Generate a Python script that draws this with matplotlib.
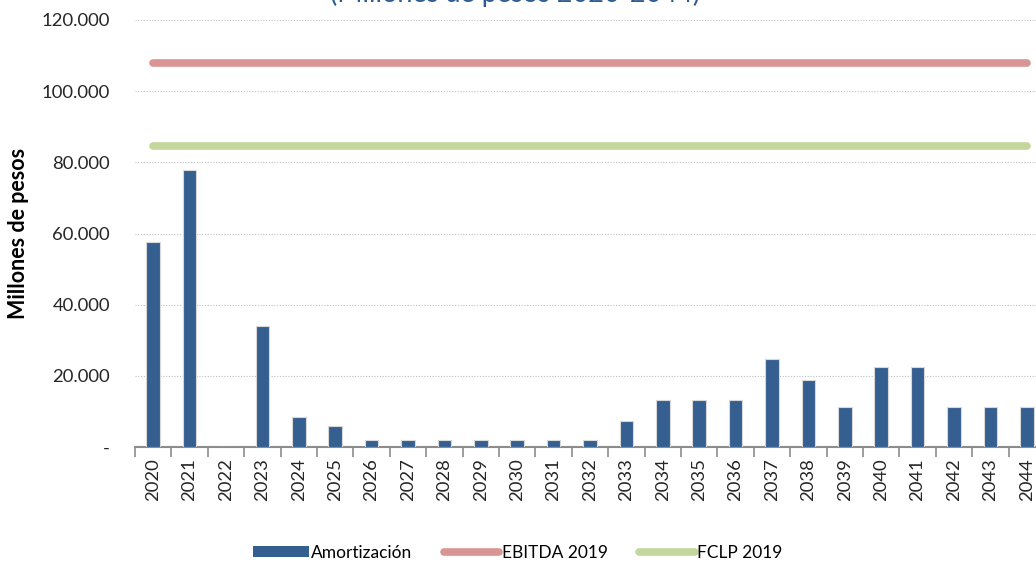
import matplotlib.pyplot as plt
import numpy as np
from matplotlib.lines import Line2D
from matplotlib.patches import Patch
from matplotlib.ticker import FixedLocator, FuncFormatter

plt.rcParams["font.family"] = ["Lato", "DejaVu Sans"]

# ----- Datos (millones de pesos) -----
ANIOS = [str(a) for a in range(2020, 2045)]
AMORTIZACION = [57600, 77800, 0, 33900, 8300, 6000, 2000, 2000, 2000, 2000,
                2000, 2000, 2000, 7400, 13200, 13200, 13200, 24700, 18900,
                11200, 22500, 22500, 11200, 11200, 11200]
EBITDA_2019 = [108000] * len(ANIOS)
FCLP_2019 = [84500] * len(ANIOS)

AZUL = "#365f91"
ROSA = "#d99594"
VERDE = "#c3d69b"

fig = plt.figure(figsize=(10.36, 5.62), dpi=100)
ax = fig.add_axes([135 / 1036, 1 - 447 / 562, 910 / 1036, 427 / 562])

x = np.arange(len(ANIOS))
ax.bar(x, AMORTIZACION, width=0.37, color=AZUL, edgecolor="#d8d8d8",
       linewidth=0.8, zorder=3)
ax.plot(x, EBITDA_2019, color=ROSA, linewidth=5.5, solid_capstyle="round", zorder=4)
ax.plot(x, FCLP_2019, color=VERDE, linewidth=5.5, solid_capstyle="round", zorder=4)

ax.set_xlim(-0.5, len(ANIOS) - 0.5)
ax.set_ylim(0, 120000)

# eje y
ax.set_yticks(np.arange(0, 120001, 20000))
ax.yaxis.set_major_formatter(FuncFormatter(
    lambda v, _: "-" if v == 0 else f"{v:,.0f}".replace(",", ".")))
ax.tick_params(axis="y", length=0, pad=18, labelsize=13.3, labelcolor="#262626")
ax.grid(axis="y", color="#bfbfbf", linestyle=(0, (1, 1.5)), linewidth=0.8, zorder=0)
ax.set_ylabel("Millones de pesos", fontsize=15.5, fontweight="bold", labelpad=9)

# eje x
ax.set_xticks(x)
ax.set_xticklabels(ANIOS, rotation=90)
ax.tick_params(axis="x", length=0, pad=8, labelsize=13.3, labelcolor="#262626")
ax.xaxis.set_minor_locator(FixedLocator(np.arange(-0.5, len(ANIOS), 1.0)))
ax.tick_params(axis="x", which="minor", length=7, width=1.2, color="#8c8c8c")

for lado in ["top", "right", "left"]:
    ax.spines[lado].set_visible(False)
ax.spines["bottom"].set_color("#8c8c8c")
ax.spines["bottom"].set_linewidth(1.5)

# título (recortado en la parte superior, como en el original)
fig.text(0.497, 1 - 2 / 562, "(Millones de pesos 2020-2044)", ha="center",
         va="baseline", fontsize=19.5, color="#2f5c8f")

handles = [
    Patch(facecolor=AZUL, edgecolor="none"),
    Line2D([0], [0], color=ROSA, linewidth=5.5, solid_capstyle="round"),
    Line2D([0], [0], color=VERDE, linewidth=5.5, solid_capstyle="round"),
]
fig.legend(handles, ["Amortización", "EBITDA 2019", "FCLP 2019"],
           loc="center", bbox_to_anchor=(0.5, 1 - 553 / 562), ncol=3,
           frameon=False, fontsize=12.5, handlelength=3.2, handleheight=0.6,
           handletextpad=0.15, columnspacing=1.8)

fig.savefig("out.png", dpi=100)
